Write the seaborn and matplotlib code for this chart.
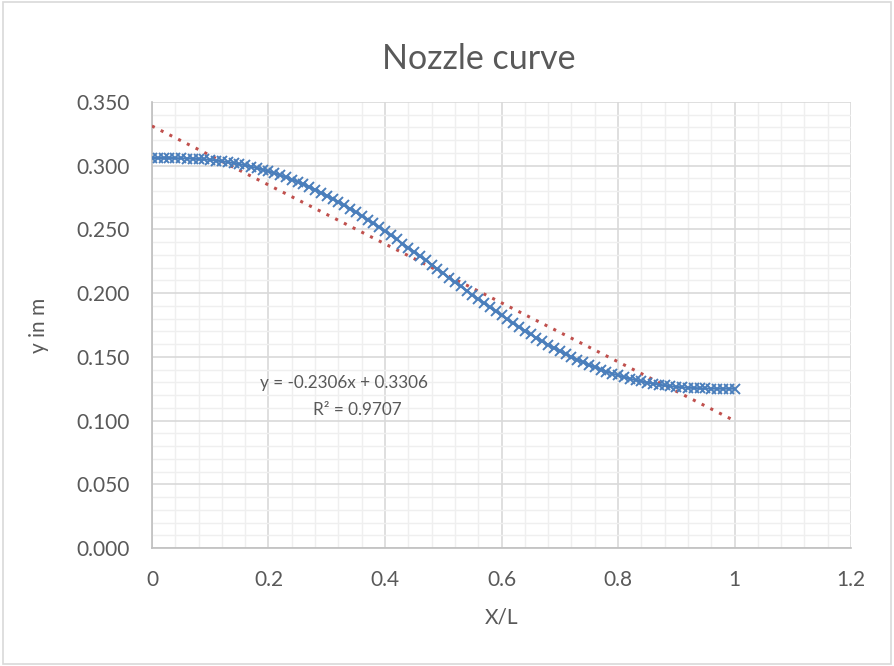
import numpy as np
import pandas as pd
import matplotlib
matplotlib.use("Agg")
import matplotlib.pyplot as plt
import seaborn as sns
from matplotlib.ticker import MultipleLocator, FixedLocator
from matplotlib.patches import Rectangle

# ---- data ----
x_over_L = [
    0.00, 0.01, 0.02, 0.03, 0.04, 0.05, 0.06, 0.07, 0.08, 0.09,
    0.10, 0.11, 0.12, 0.13, 0.14, 0.15, 0.16, 0.17, 0.18, 0.19,
    0.20, 0.21, 0.22, 0.23, 0.24, 0.25, 0.26, 0.27, 0.28, 0.29,
    0.30, 0.31, 0.32, 0.33, 0.34, 0.35, 0.36, 0.37, 0.38, 0.39,
    0.40, 0.41, 0.42, 0.43, 0.44, 0.45, 0.46, 0.47, 0.48, 0.49,
    0.50, 0.51, 0.52, 0.53, 0.54, 0.55, 0.56, 0.57, 0.58, 0.59,
    0.60, 0.61, 0.62, 0.63, 0.64, 0.65, 0.66, 0.67, 0.68, 0.69,
    0.70, 0.71, 0.72, 0.73, 0.74, 0.75, 0.76, 0.77, 0.78, 0.79,
    0.80, 0.81, 0.82, 0.83, 0.84, 0.85, 0.86, 0.87, 0.88, 0.89,
    0.90, 0.91, 0.92, 0.93, 0.94, 0.95, 0.96, 0.97, 0.98, 0.99,
    1.00,
]
y_in_m = [
    0.3060, 0.3060, 0.3060, 0.3060, 0.3059, 0.3058, 0.3056, 0.3054, 0.3052, 0.3049,
    0.3045, 0.3040, 0.3034, 0.3028, 0.3020, 0.3012, 0.3003, 0.2992, 0.2981, 0.2969,
    0.2955, 0.2941, 0.2925, 0.2909, 0.2891, 0.2873, 0.2853, 0.2832, 0.2811, 0.2788,
    0.2765, 0.2740, 0.2715, 0.2689, 0.2662, 0.2634, 0.2606, 0.2577, 0.2547, 0.2516,
    0.2485, 0.2454, 0.2422, 0.2389, 0.2357, 0.2324, 0.2290, 0.2257, 0.2223, 0.2189,
    0.2155, 0.2121, 0.2087, 0.2053, 0.2020, 0.1986, 0.1953, 0.1921, 0.1888, 0.1856,
    0.1825, 0.1794, 0.1763, 0.1733, 0.1704, 0.1676, 0.1648, 0.1621, 0.1595, 0.1570,
    0.1545, 0.1522, 0.1499, 0.1478, 0.1457, 0.1437, 0.1419, 0.1401, 0.1385, 0.1369,
    0.1355, 0.1341, 0.1329, 0.1318, 0.1307, 0.1298, 0.1290, 0.1282, 0.1276, 0.1270,
    0.1265, 0.1261, 0.1258, 0.1256, 0.1254, 0.1252, 0.1251, 0.1250, 0.1250, 0.1250,
    0.1250,
]
x_ticks = [0, 0.2, 0.4, 0.6, 0.8, 1.0, 1.2]
x_tick_labels = ["0", "0.2", "0.4", "0.6", "0.8", "1", "1.2"]
y_ticks = [0.0, 0.05, 0.10, 0.15, 0.20, 0.25, 0.30, 0.35]
y_tick_labels = ["0.000", "0.050", "0.100", "0.150", "0.200", "0.250", "0.300", "0.350"]
trend_text = ["y = -0.2306x + 0.3306", "R\u00b2 = 0.9707"]

df = pd.DataFrame({"X/L": x_over_L, "y in m": y_in_m})

sns.set_theme(style="white")
plt.rcParams["font.family"] = ["Lato", "DejaVu Sans"]

TXT = "#595959"
BLUE = "#4A7EBB"
RED = "#C0504D"

fig = plt.figure(figsize=(8.94, 6.66), dpi=100)
ax = fig.add_axes([0.170, 0.177, 0.782, 0.670])

# Trendline (linear fit over the data range), dotted red
sns.regplot(data=df, x="X/L", y="y in m", ax=ax, scatter=False, ci=None,
            truncate=True,
            line_kws=dict(color=RED, linestyle=(0, (1, 2.2)), linewidth=2.2,
                          zorder=3))
# Data series: line + x markers
sns.lineplot(data=df, x="X/L", y="y in m", ax=ax, color=BLUE, linewidth=1.5,
             marker="x", markersize=6.5, markeredgewidth=1.4,
             markeredgecolor=BLUE, zorder=4)

ax.set_xlim(0, 1.2)
ax.set_ylim(0, 0.35)
ax.xaxis.set_major_locator(FixedLocator(x_ticks))
ax.set_xticklabels(x_tick_labels)
ax.yaxis.set_major_locator(FixedLocator(y_ticks))
ax.set_yticklabels(y_tick_labels)
ax.xaxis.set_minor_locator(MultipleLocator(0.04))
ax.yaxis.set_minor_locator(MultipleLocator(0.01))

ax.grid(which="major", color="#D9D9D9", linewidth=1.2, zorder=0)
ax.grid(which="minor", color="#EFEFEF", linewidth=1.0, zorder=0)
ax.set_axisbelow(True)

for side in ["top", "right"]:
    ax.spines[side].set_visible(False)
for side in ["left", "bottom"]:
    ax.spines[side].set_color("#BFBFBF")
    ax.spines[side].set_linewidth(1.2)

ax.tick_params(axis="both", which="both", length=0, labelsize=15,
               labelcolor=TXT)
ax.tick_params(axis="x", pad=16)
ax.tick_params(axis="y", pad=16)

ax.set_xlabel("X/L", fontsize=15, color=TXT, labelpad=12)
ax.set_ylabel("y in m", fontsize=15, color=TXT, labelpad=20)
fig.suptitle("Nozzle curve", x=0.535, y=0.935, fontsize=24.5, color=TXT)

ax.text(0.330, 0.1295, trend_text[0], fontsize=12.3, color=TXT,
        ha="center", va="center")
ax.text(0.353, 0.1085, trend_text[1], fontsize=12.3, color=TXT,
        ha="center", va="center")

# Chart-area border
fig.patches.append(Rectangle((0.003, 0.003), 0.994, 0.994,
                             transform=fig.transFigure, fill=False,
                             edgecolor="#D9D9D9", linewidth=1.2))

fig.savefig("out.png", dpi=100, facecolor="white")
